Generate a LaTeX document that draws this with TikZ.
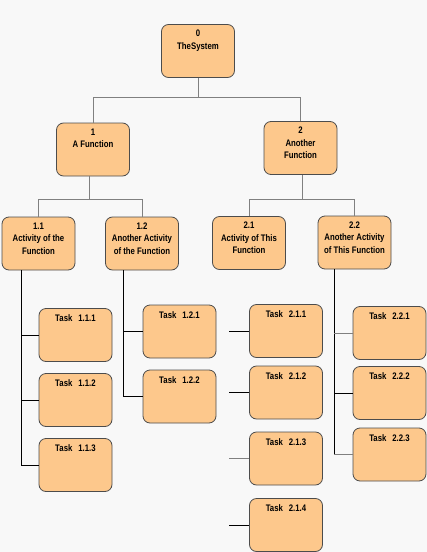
\documentclass[tikz,border=0pt]{standalone}
\usepackage{fontspec}
\newfontfamily\boxfont[FakeStretch=0.82]{Liberation Sans}
\usetikzlibrary{positioning, calc}
\definecolor{boxfill}{HTML}{FDC88C}
\definecolor{pagebg}{HTML}{F8F8F8}
% top aligned lines of a box
\newcommand{\boxlines}[1]{\begin{tabular}[t]{@{}c@{}}#1\end{tabular}}

\begin{document}
\begin{tikzpicture}[
	x=1pt, y=-1pt,
	% Define styles
	box/.style={rectangle, draw=black!70, fill=boxfill, rounded corners=7pt, line width=0.8pt, minimum width=73pt, inner xsep=2pt, inner ysep=5pt, text height=7pt, text depth=36pt, font=\boxfont\bfseries\fontsize{9.5}{12.5}\selectfont},
	taskbox/.style={box, inner ysep=6pt, text depth=34pt, font=\boxfont\bfseries\fontsize{9.5}{11}\selectfont},
	link/.style={line width=0.8pt, gray},
	stub/.style={line width=0.8pt, black}
	]
	
	% page
	\path[use as bounding box, fill=pagebg] (0,0) rectangle (427,552);
	
	% 1. Top
	\node[box] (n0) at (198,51) {\boxlines{0\\TheSystem}};
	
	% 2. Functions
	\node[box] (n1) at (93,149.5) {\boxlines{1\\A Function}};
	\node[box] (n2) at (300.5,148) {\boxlines{2\\Another\\Function}};
	
	% 3. Activities
	\node[box] (n11) at (38.5,243.5) {\boxlines{1.1\\Activity of the\\Function}};
	\node[box] (n12) at (142,243.5) {\boxlines{1.2\\Another Activity\\of the Function}};
	\node[box] (n21) at (249,243) {\boxlines{2.1\\Activity of This\\Function}};
	\node[box] (n22) at (354.5,242.5) {\boxlines{2.2\\Another Activity\\of This Function}};
	
	% 4. Tasks
	\node[taskbox] (t111) at (75.5,335) {Task\hspace{6pt}1.1.1};
	\node[taskbox] (t112) at (75.5,400) {Task\hspace{6pt}1.1.2};
	\node[taskbox] (t113) at (75.5,465) {Task\hspace{6pt}1.1.3};
	\node[taskbox] (t121) at (179.5,331.5) {Task\hspace{6pt}1.2.1};
	\node[taskbox] (t122) at (179.5,396.5) {Task\hspace{6pt}1.2.2};
	\node[taskbox] (t211) at (286,331) {Task\hspace{6pt}2.1.1};
	\node[taskbox] (t212) at (286,392.5) {Task\hspace{6pt}2.1.2};
	\node[taskbox] (t213) at (286,458.5) {Task\hspace{6pt}2.1.3};
	\node[taskbox] (t214) at (286,525) {Task\hspace{6pt}2.1.4};
	\node[taskbox] (t221) at (389.5,333) {Task\hspace{6pt}2.2.1};
	\node[taskbox] (t222) at (389.5,393) {Task\hspace{6pt}2.2.2};
	\node[taskbox] (t223) at (389.5,454.5) {Task\hspace{6pt}2.2.3};
	
	% Tree connectors
	\coordinate (j0) at (198,97);
	\coordinate (j1) at (89,199);
	\coordinate (j2) at (302,199);
	\draw[link] (n0.south) -- (j0) -| (n1.north);
	\draw[link] (j0) -| (n2.north);
	\draw[link] (j1 |- n1.south) -- (j1) -| (n11.north);
	\draw[link] (j1) -| (n12.north);
	\draw[link] (j2 |- n2.south) -- (j2) -| (n21.north);
	\draw[link] (j2) -| (n22.north);
	
	% Task spines
	\coordinate (s11) at ([xshift=-17.5pt]n11.south);
	\coordinate (s12) at ([xshift=-19pt]n12.south);
	\coordinate (s22) at ([xshift=-20.5pt]n22.south);
	\draw[stub] (s11) |- (t113);
	\draw[stub] (s11 |- t111) -- (t111);
	\draw[stub] (s11 |- t112) -- (t112);
	\draw[stub] (s12) |- (t122);
	\draw[stub] (s12 |- t121) -- (t121);
	\draw[stub] (s22) -- (s22 |- t223);
	\draw[link] (s22 |- t221) -- (t221);
	\draw[stub] (s22 |- t222) -- (t222);
	\draw[link] (s22 |- t223) -- (t223);
	
	% Loose stubs of 2.1
	\foreach \t in {211,212,213,214}
		\coordinate (e\t) at ([xshift=-20pt]t\t.west);
	\draw[stub] (e211) -- (t211);
	\draw[stub] (e212) -- (t212);
	\draw[link] (e213) -- (t213);
	\draw[stub] (e214) -- (t214);
\end{tikzpicture}
\end{document}
